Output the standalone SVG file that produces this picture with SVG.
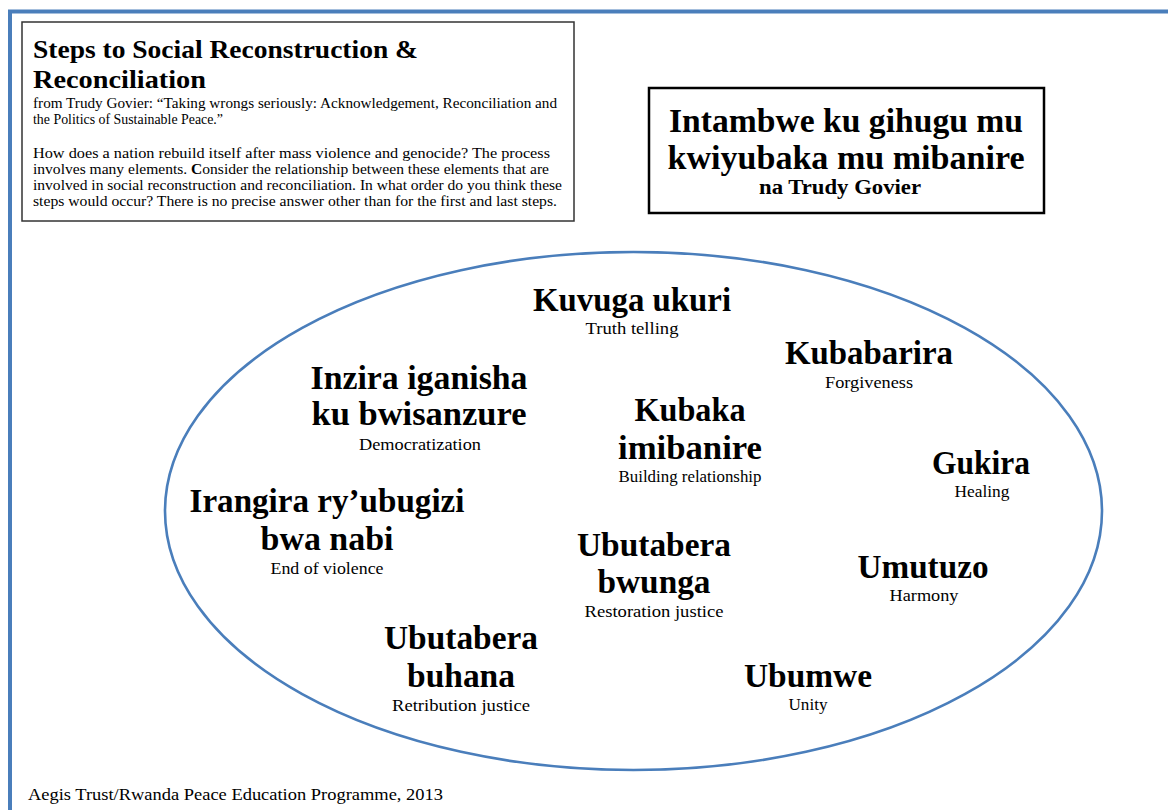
<svg xmlns="http://www.w3.org/2000/svg" width="1168" height="810" viewBox="0 0 1168 810">
  <style>
    text { font-family: "Liberation Serif", "Times New Roman", serif; fill: #000; }
    .big { font-size: 34px; font-weight: bold; text-anchor: middle; }
    .sub { font-size: 17px; text-anchor: middle; }
    .head { font-size: 34px; font-weight: bold; text-anchor: middle; }
    .title { font-size: 26px; font-weight: bold; }
    .body { font-size: 14.5px; }
    .frame { fill: none; stroke: #4a7ebb; stroke-width: 4; }
    .oval { fill: none; stroke: #4a7ebb; stroke-width: 2.6; }
  </style>

  <rect width="1168" height="810" fill="#fff"/>

  <!-- page frame -->
  <path class="frame" d="M10,810 V11.5 H1168"/>

  <!-- intro box -->
  <g id="intro">
    <rect x="22" y="22" width="552" height="199" fill="#fff" stroke="#333" stroke-width="1.5"/>
    <text class="title" x="33" y="58" textLength="385" lengthAdjust="spacingAndGlyphs">Steps to Social Reconstruction &amp;</text>
    <text class="title" x="33" y="88" textLength="173" lengthAdjust="spacingAndGlyphs">Reconciliation</text>
    <text class="body" x="33" y="108" textLength="524" lengthAdjust="spacingAndGlyphs">from Trudy Govier: “Taking wrongs seriously: Acknowledgement, Reconciliation and</text>
    <text class="body" x="33" y="124" textLength="190" lengthAdjust="spacingAndGlyphs">the Politics of Sustainable Peace.”</text>
    <text class="body" x="33" y="158" textLength="517" lengthAdjust="spacingAndGlyphs">How does a nation rebuild itself after mass violence and genocide? The process</text>
    <text class="body" x="33" y="174" textLength="516" lengthAdjust="spacingAndGlyphs">involves many elements. <tspan font-weight="bold">C</tspan>onsider the relationship between these elements that are</text>
    <text class="body" x="33" y="190" textLength="529" lengthAdjust="spacingAndGlyphs">involved in social reconstruction and reconciliation.  In what order do you think these</text>
    <text class="body" x="33" y="206" textLength="524" lengthAdjust="spacingAndGlyphs">steps would occur?  There is no precise answer other than for the first and last steps.</text>
  </g>

  <!-- Kinyarwanda title box -->
  <g id="heading">
    <rect x="649" y="88" width="395" height="125" fill="#fff" stroke="#000" stroke-width="2.5"/>
    <text class="head" x="846" y="132" textLength="354" lengthAdjust="spacingAndGlyphs">Intambwe ku gihugu mu</text>
    <text class="head" x="846" y="169" textLength="357" lengthAdjust="spacingAndGlyphs">kwiyubaka mu mibanire</text>
    <text x="840" y="194" font-size="20" font-weight="bold" text-anchor="middle" textLength="162" lengthAdjust="spacingAndGlyphs">na Trudy Govier</text>
  </g>

  <!-- outline enclosing the steps -->
  <g id="connectors">
    <ellipse class="oval" cx="633.5" cy="511" rx="468.5" ry="259"/>
  </g>

  <g id="truth">
    <text class="big" x="632" y="311" textLength="198" lengthAdjust="spacingAndGlyphs">Kuvuga ukuri</text>
    <text class="sub" x="632" y="334" textLength="93" lengthAdjust="spacingAndGlyphs">Truth telling</text>
  </g>

  <g id="forgiveness">
    <text class="big" x="869" y="364" textLength="168" lengthAdjust="spacingAndGlyphs">Kubabarira</text>
    <text class="sub" x="869" y="388" textLength="88" lengthAdjust="spacingAndGlyphs">Forgiveness</text>
  </g>

  <g id="democratization">
    <text class="big" x="419" y="389" textLength="217" lengthAdjust="spacingAndGlyphs">Inzira iganisha</text>
    <text class="big" x="419" y="425" textLength="215" lengthAdjust="spacingAndGlyphs">ku bwisanzure</text>
    <text class="sub" x="420" y="450" textLength="122" lengthAdjust="spacingAndGlyphs">Democratization</text>
  </g>

  <g id="relationship">
    <text class="big" x="690" y="421" textLength="111" lengthAdjust="spacingAndGlyphs">Kubaka</text>
    <text class="big" x="690" y="459" textLength="144" lengthAdjust="spacingAndGlyphs">imibanire</text>
    <text class="sub" x="690" y="482" textLength="143" lengthAdjust="spacingAndGlyphs">Building relationship</text>
  </g>

  <g id="healing">
    <text class="big" x="981" y="474" textLength="98" lengthAdjust="spacingAndGlyphs">Gukira</text>
    <text class="sub" x="982" y="497" textLength="55" lengthAdjust="spacingAndGlyphs">Healing</text>
  </g>

  <g id="end-violence">
    <text class="big" x="327" y="512" textLength="275" lengthAdjust="spacingAndGlyphs">Irangira ry’ubugizi</text>
    <text class="big" x="327" y="550" textLength="133" lengthAdjust="spacingAndGlyphs">bwa nabi</text>
    <text class="sub" x="327" y="574" textLength="113" lengthAdjust="spacingAndGlyphs">End of violence</text>
  </g>

  <g id="restoration">
    <text class="big" x="654" y="556" textLength="154" lengthAdjust="spacingAndGlyphs">Ubutabera</text>
    <text class="big" x="654" y="593" textLength="113" lengthAdjust="spacingAndGlyphs">bwunga</text>
    <text class="sub" x="654" y="617" textLength="139" lengthAdjust="spacingAndGlyphs">Restoration justice</text>
  </g>

  <g id="harmony">
    <text class="big" x="923" y="578" textLength="131" lengthAdjust="spacingAndGlyphs">Umutuzo</text>
    <text class="sub" x="924" y="601" textLength="69" lengthAdjust="spacingAndGlyphs">Harmony</text>
  </g>

  <g id="retribution">
    <text class="big" x="461" y="649" textLength="154" lengthAdjust="spacingAndGlyphs">Ubutabera</text>
    <text class="big" x="461" y="687" textLength="108" lengthAdjust="spacingAndGlyphs">buhana</text>
    <text class="sub" x="461" y="711" textLength="138" lengthAdjust="spacingAndGlyphs">Retribution justice</text>
  </g>

  <g id="unity">
    <text class="big" x="808" y="687" textLength="128" lengthAdjust="spacingAndGlyphs">Ubumwe</text>
    <text class="sub" x="808" y="710" textLength="39" lengthAdjust="spacingAndGlyphs">Unity</text>
  </g>

  <!-- credit line -->
  <text x="28" y="800" font-size="17" textLength="415" lengthAdjust="spacingAndGlyphs">Aegis Trust/Rwanda Peace Education Programme, 2013</text>
</svg>
